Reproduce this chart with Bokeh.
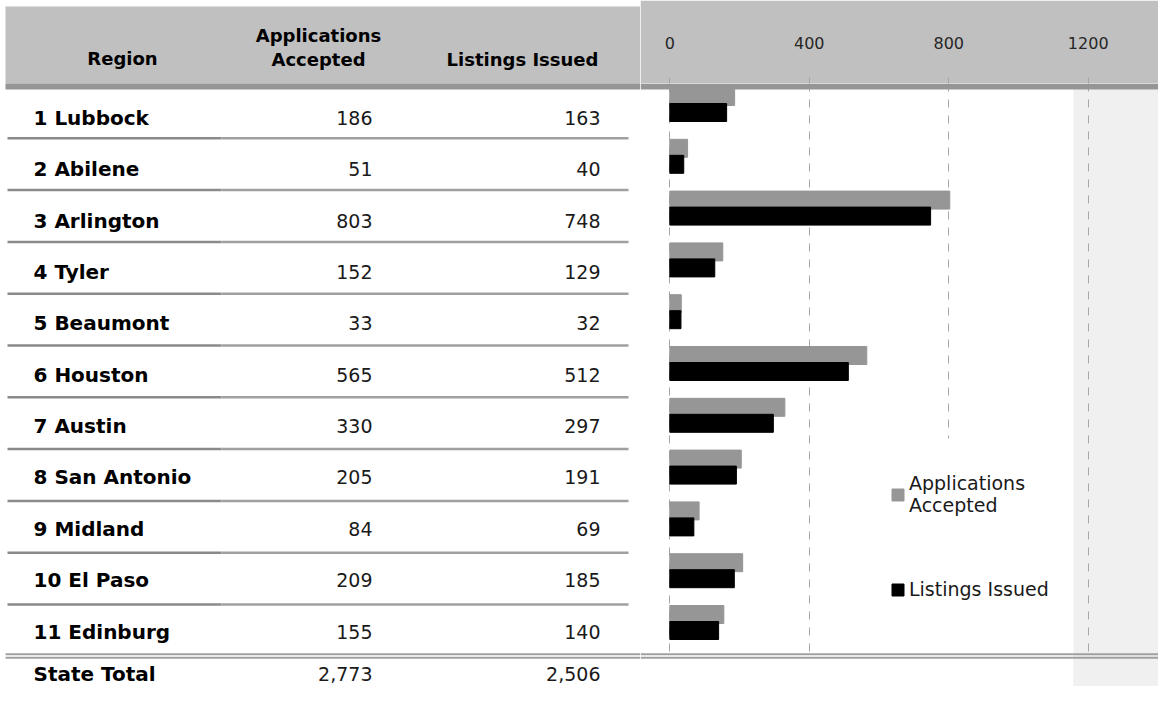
from bokeh.plotting import figure
from bokeh.layouts import row
from bokeh.models import (Range1d, FixedTicker, Legend, LegendItem, Span,
                          ColumnDataSource)
from bokeh.core.properties import value
from bokeh.embed import file_html
from bokeh.resources import INLINE

# ---------------- data ----------------
regions = ["1 Lubbock", "2 Abilene", "3 Arlington", "4 Tyler", "5 Beaumont",
           "6 Houston", "7 Austin", "8 San Antonio", "9 Midland", "10 El Paso",
           "11 Edinburg"]
applications = [186, 51, 803, 152, 33, 565, 330, 205, 84, 209, 155]
listings = [163, 40, 748, 129, 32, 512, 297, 191, 69, 185, 140]
total_label = "State Total"
ticks = [0, 400, 800, 1200]
series_names = ["Applications\nAccepted", "Listings Issued"]
header_region = "Region"
header_apps = ["Applications", "Accepted"]
header_list = "Listings Issued"

# ---------------- layout geometry (pixels) ----------------
W_L, W_R, H = 640, 518, 686
X0 = 669.3          # pixel of value 0
SCALE = 0.34867     # pixels per unit
FRAME_TOP = 83
ROW0 = 86
ROW = 51.8
TXT0 = 117.5
TXT_STEP = 51.35
TOTAL_Y = 673
FONT = "DejaVu Sans"
n = len(regions)


def xv(px):
    return (px - X0) / SCALE


def yv(py):
    return (py - ROW0) / ROW


# ================= left: table =================
pl = figure(width=W_L, height=H, output_backend="svg", toolbar_location=None,
            x_range=Range1d(0, W_L), y_range=Range1d(H, 0),
            x_axis_location=None, y_axis_location=None, min_border=0,
            min_border_left=0, min_border_right=0, min_border_top=0, min_border_bottom=0,
            outline_line_color=None, background_fill_color="white",
            border_fill_color="white", frame_align=False)
pl.xgrid.visible = False
pl.ygrid.visible = False

pl.quad(left=5, right=W_L, top=6, bottom=FRAME_TOP, fill_color="#c0c0c0", line_color=None)
pl.quad(left=5, right=W_L, top=FRAME_TOP, bottom=89, fill_color="#969696", line_color=None)

hdr = dict(text_font=value(FONT), text_font_style="bold", text_font_size="18px",
           text_color="#000000", text_baseline="middle", text_align="center")
pl.text(x=[122], y=[58], text=[header_region], **hdr)
pl.text(x=[318], y=[35], text=[header_apps[0]], **hdr)
pl.text(x=[318], y=[59], text=[header_apps[1]], **hdr)
pl.text(x=[522], y=[59], text=[header_list], **hdr)

bounds = [ROW0 + ROW * k for k in range(1, n)]
pl.segment(x0=7, x1=221, y0=bounds, y1=bounds, line_color="#8a8a8a", line_width=2.5)
pl.segment(x0=221, x1=628, y0=bounds, y1=bounds, line_color="#a0a0a0", line_width=2.5)

pl.quad(left=5, right=W_L, top=652.7, bottom=654.7, fill_color="#a0a0a0", line_color=None)
pl.quad(left=5, right=W_L, top=656.3, bottom=658.3, fill_color="#a0a0a0", line_color=None)

tsrc = ColumnDataSource(dict(
    region=regions + [total_label],
    apps_txt=[f"{v:,}" for v in applications] + [f"{sum(applications):,}"],
    lists_txt=[f"{v:,}" for v in listings] + [f"{sum(listings):,}"],
    ty=[TXT0 + TXT_STEP * k for k in range(n)] + [TOTAL_Y],
))
pl.text(x=33, y="ty", text="region", source=tsrc, text_font=value(FONT),
        text_font_style="bold", text_font_size="20px", text_color="#000000",
        text_align="left", text_baseline="middle")
pl.text(x=372, y="ty", text="apps_txt", source=tsrc, text_font=value(FONT),
        text_font_size="19px", text_color="#1a1a1a", text_align="right",
        text_baseline="middle")
pl.text(x=600, y="ty", text="lists_txt", source=tsrc, text_font=value(FONT),
        text_font_size="19px", text_color="#1a1a1a", text_align="right",
        text_baseline="middle")

# ================= right: bar chart =================
pr = figure(width=W_R, height=H, output_backend="svg", toolbar_location=None,
            x_range=Range1d(xv(W_L), xv(W_L + W_R)),
            y_range=Range1d(yv(H), yv(FRAME_TOP)),
            x_axis_location="above", y_axis_location=None,
            min_border_top=FRAME_TOP, min_border_left=0, min_border_right=0,
            min_border_bottom=0, border_fill_color="#c0c0c0",
            background_fill_color="white", outline_line_color=None,
            frame_align=False)

ax = pr.xaxis[0]
ax.ticker = FixedTicker(ticks=ticks)
ax.axis_line_color = None
ax.major_tick_out = 6
ax.major_tick_in = 0
ax.major_tick_line_color = "#a6a6a6"
ax.minor_tick_line_color = None
ax.major_label_text_font = FONT
ax.major_label_text_font_size = "16px"
ax.major_label_text_color = "#262626"
ax.major_label_standoff = 29

pr.xgrid.grid_line_color = "#a6a6a6"
pr.xgrid.grid_line_dash = "8 8"
pr.ygrid.visible = False

# light column on the right (behind the grid)
pr.quad(left=xv(1073), right=xv(W_L + W_R), top=yv(FRAME_TOP), bottom=yv(H),
        fill_color="#f0f0f0", line_color=None, level="image")

rows = list(range(n))
src = ColumnDataSource(dict(
    apps=applications,
    lists=listings,
    y_a=[r + 10 / ROW for r in rows],
    y_l=[r + 26 / ROW for r in rows],
))
r_apps = pr.hbar(y="y_a", left=0, right="apps", height=18 / ROW, fill_color="#969696",
                 line_color="#969696", line_width=1, source=src)
r_list = pr.hbar(y="y_l", left=0, right="lists", height=18 / ROW, fill_color="#000000",
                 line_color="#000000", line_width=1, source=src)

# covers: below the double rule and behind the legend (grid hidden there)
pr.quad(left=xv(W_L), right=xv(1073), top=yv(655.5), bottom=yv(H),
        fill_color="white", line_color=None)
pr.quad(left=xv(1073), right=xv(W_L + W_R), top=yv(655.5), bottom=yv(H),
        fill_color="#f0f0f0", line_color=None)
pr.quad(left=xv(868), right=xv(1071), top=yv(438), bottom=yv(655.5),
        fill_color="white", line_color=None)

pr.add_layout(Span(location=0, dimension="width", line_color="#969696", line_width=6))
pr.add_layout(Span(location=yv(653.7), dimension="width", line_color="#a0a0a0", line_width=2))
pr.add_layout(Span(location=yv(657.3), dimension="width", line_color="#a0a0a0", line_width=2))

legend = Legend(items=[LegendItem(label=series_names[0], renderers=[r_apps]),
                       LegendItem(label=series_names[1], renderers=[r_list])],
                location=(250, 86), orientation="vertical", padding=5, spacing=62,
                margin=0, glyph_width=15, glyph_height=15, label_standoff=4,
                label_text_font=FONT, label_text_font_size="19px",
                label_text_color="#1a1a1a", label_height=20,
                background_fill_alpha=0, border_line_color=None)
pr.add_layout(legend)

layout = row(pl, pr, spacing=0)
open("out.html", "w").write(file_html(layout, INLINE))
